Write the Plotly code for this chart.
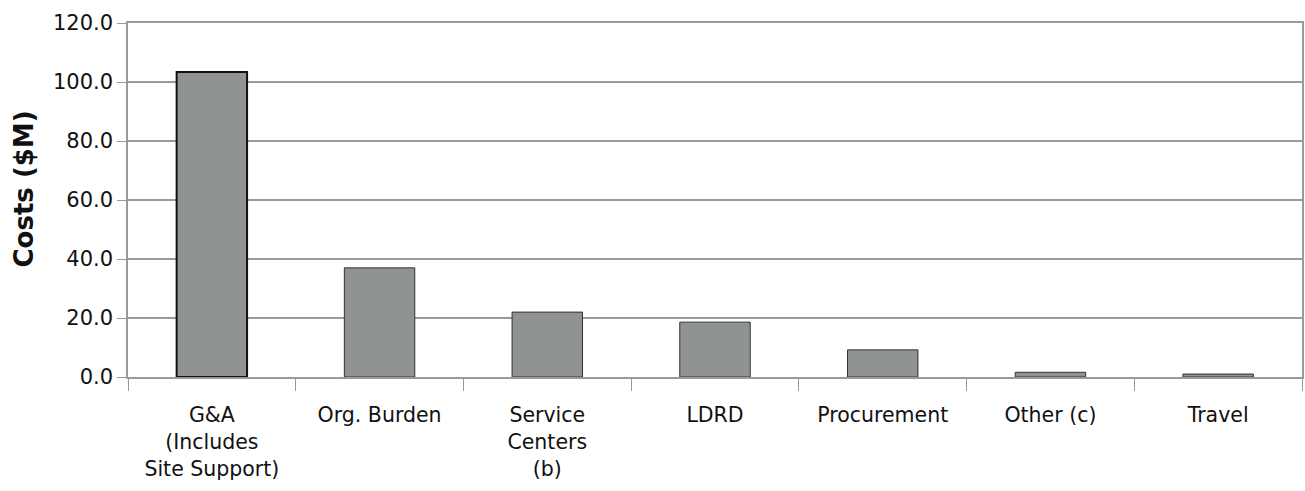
import plotly.graph_objects as go

categories = [
    "G&A<br>(Includes<br>Site Support)",
    "Org. Burden",
    "Service<br>Centers<br>(b)",
    "LDRD",
    "Procurement",
    "Other (c)",
    "Travel",
]
costs = [103.4, 37.0, 22.0, 18.6, 9.2, 1.6, 1.0]
outline_widths = [2, 1, 1, 1, 1, 1, 1]
outline_colors = ["#111111", "#333333", "#333333", "#333333", "#333333", "#333333", "#333333"]
y_ticks = [0, 20, 40, 60, 80, 100, 120]

fig = go.Figure(
    go.Bar(
        x=categories,
        y=costs,
        width=0.42,
        marker=dict(
            color="#8f9392",
            line=dict(color=outline_colors, width=outline_widths),
        ),
    )
)

grid = "#9a9a9a"
font_family = "DejaVu Sans, Verdana, sans-serif"

fig.update_layout(
    width=1305,
    height=491,
    margin=dict(l=128, r=1, t=23, b=114),
    paper_bgcolor="white",
    plot_bgcolor="white",
    showlegend=False,
    font=dict(family=font_family, size=21, color="#111111"),
)

fig.update_yaxes(
    range=[0, 120],
    tickvals=y_ticks,
    tickformat=".1f",
    showgrid=True,
    gridcolor=grid,
    gridwidth=1.5,
    showline=True,
    linecolor=grid,
    linewidth=1.5,
    mirror=True,
    ticks="outside",
    ticklen=9,
    tickcolor=grid,
    tickfont=dict(size=21),
    zeroline=False,
)

# vertical axis title, placed as a rotated annotation
fig.add_annotation(
    text="<b>Costs ($M)</b>",
    textangle=-90,
    xref="paper",
    yref="paper",
    x=-0.0885,
    y=0.53,
    xanchor="center",
    yanchor="middle",
    showarrow=False,
    font=dict(size=26, family=font_family, color="#111111"),
)

fig.update_xaxes(
    type="category",
    showline=True,
    linecolor=grid,
    linewidth=1.5,
    mirror=True,
    ticks="outside",
    tickson="boundaries",
    ticklen=12,
    tickcolor=grid,
    tickfont=dict(size=20.5),
    ticklabelstandoff=19,
    showgrid=False,
)

fig.write_html("out.html")
